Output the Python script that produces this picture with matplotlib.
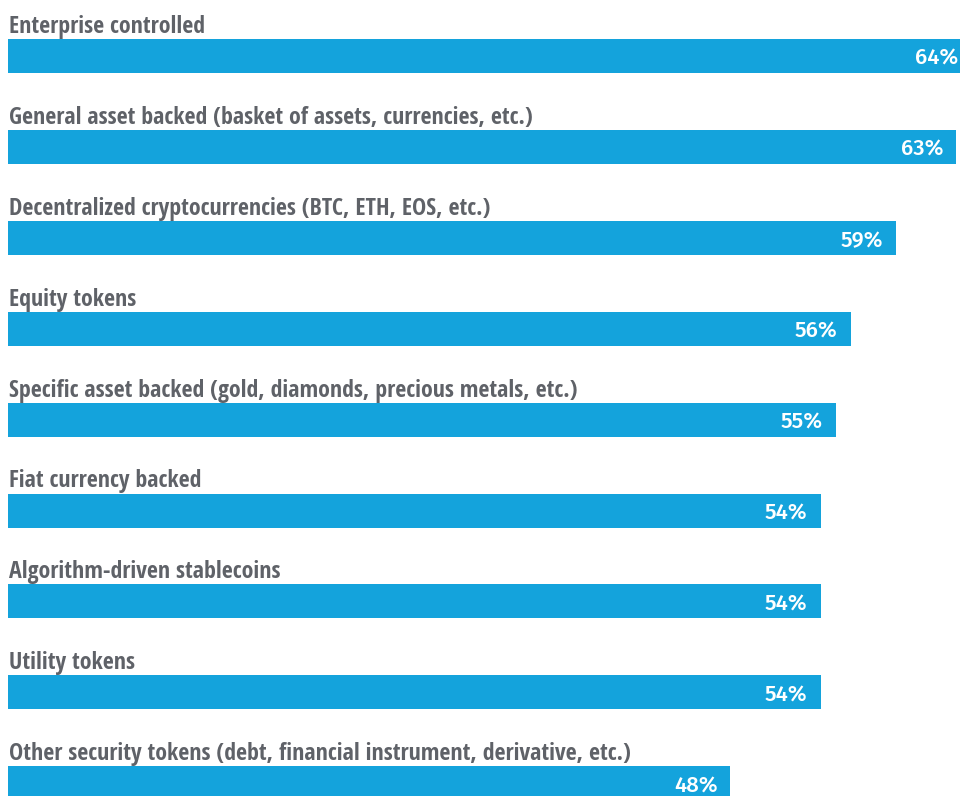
import matplotlib.pyplot as plt

categories = [
    "Enterprise controlled",
    "General asset backed (basket of assets, currencies, etc.)",
    "Decentralized cryptocurrencies (BTC, ETH, EOS, etc.)",
    "Equity tokens",
    "Specific asset backed (gold, diamonds, precious metals, etc.)",
    "Fiat currency backed",
    "Algorithm-driven stablecoins",
    "Utility tokens",
    "Other security tokens (debt, financial instrument, derivative, etc.)",
]
values = [64, 63, 59, 56, 55, 54, 54, 54, 48]

BAR = "#14a3dc"
GREY = "#5f6268"
W, H = 960, 796
step = 90.9      # px between bars
px_pct = 15.05   # px per percent

fig = plt.figure(figsize=(W / 100, H / 100), dpi=100)
ax = fig.add_axes([8 / W, 0, 952 / W, 1])
ax.set_xlim(0, 952 / px_pct)
ax.set_ylim((H - 56) / step, -56 / step)
ax.axis("off")

ypos = list(range(len(values)))
ax.barh(ypos, values, height=34 / step, color=BAR)

for y, cat, v in zip(ypos, categories, values):
    # category label sits just above its bar
    ax.text(0.05, y - 23 / step, cat, ha="left", va="baseline",
            fontsize=17.2, fontweight="bold", color=GREY,
            family=["Open Sans Condensed", "Fira Sans Condensed", "DejaVu Sans"])
    ax.text(v - 13 / px_pct, y + 9 / step, f"{v}%", ha="right", va="baseline",
            fontsize=16, fontweight="medium", color="white",
            family=["Fira Sans", "DejaVu Sans"])

fig.savefig("out.png", dpi=100)
